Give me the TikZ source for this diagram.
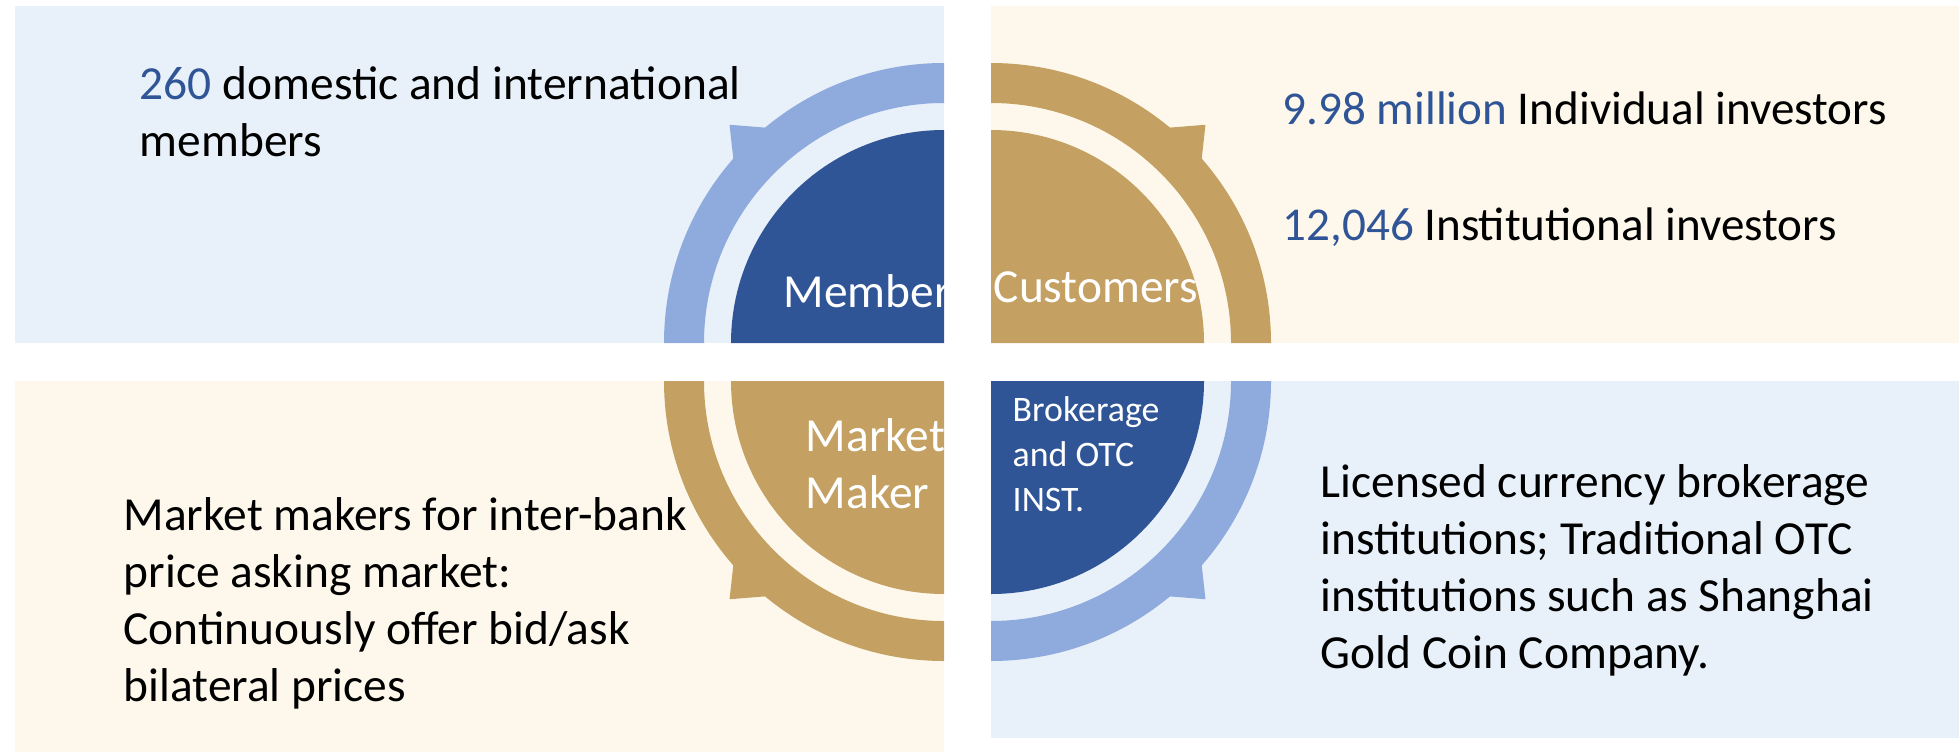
\documentclass[tikz,border=0pt]{standalone}
\usepackage{fontspec}
\setmainfont{Carlito}
\definecolor{paleblue}{HTML}{E8F0F9}
\definecolor{cream}{HTML}{FEF8EC}
\definecolor{gold}{HTML}{C4A163}
\definecolor{navy}{HTML}{2F5597}
\definecolor{ringblue}{HTML}{8FAADC}
\tikzset{
  txt/.style={anchor=north west, align=left, inner sep=0pt, font=\fontsize{13.5}{16.2}\selectfont},
  linetxt/.style={anchor=base west, inner sep=0pt, font=\fontsize{13.4}{16.2}\selectfont},
  lbl/.style={txt, text=white},
  smalllbl/.style={lbl, font=\fontsize{10.2}{12.8}\selectfont},
}
\newcommand{\num}[1]{\textcolor{navy}{#1}}
\begin{document}
\begin{tikzpicture}[x=0.1mm, y=0.1mm]
	\useasboundingbox (0,0) rectangle (1959,752);
	% Panels
	\fill [paleblue] (15,409) rectangle (944,746);
	\fill [cream] (991,409) rectangle (1959,746);
	\fill [cream] (15,0) rectangle (944,371);
	\fill [paleblue] (991,14) rectangle (1959,371);
	% Quarter discs
	\fill [navy] (944,409) -- ++(90:213) arc (90:180:213) -- cycle;
	\fill [gold] (991,409) -- ++(0:213) arc (0:90:213) -- cycle;
	\fill [gold] (944,371) -- ++(180:213) arc (180:270:213) -- cycle;
	\fill [navy] (991,371) -- ++(270:213) arc (270:360:213) -- cycle;
	% Outer rings
	\fill [ringblue] (944,409) ++(90:280) arc (90:180:280) -- ++(40,0) arc (180:90:240) -- cycle;
	\fill [gold] (991,409) ++(0:280) arc (0:90:280) -- ++(0,-40) arc (90:0:240) -- cycle;
	\fill [gold] (944,371) ++(180:280) arc (180:270:280) -- ++(0,40) arc (270:180:240) -- cycle;
	\fill [ringblue] (991,371) ++(270:280) arc (270:360:280) -- ++(-40,0) arc (360:270:240) -- cycle;
	% Barbs on the rings
	\fill [ringblue] ([shift={(129.5:279)}]944,409) -- ([shift={(134.5:306)}]944,409) -- ([shift={(139:279)}]944,409) -- cycle;
	\fill [gold] ([shift={(50.5:279)}]991,409) -- ([shift={(45.5:306)}]991,409) -- ([shift={(41:279)}]991,409) -- cycle;
	\fill [gold] ([shift={(230.5:279)}]944,371) -- ([shift={(225.5:306)}]944,371) -- ([shift={(221:279)}]944,371) -- cycle;
	\fill [ringblue] ([shift={(309.5:279)}]991,371) -- ([shift={(314.5:306)}]991,371) -- ([shift={(319:279)}]991,371) -- cycle;
	% Labels in the discs
	\begin{scope}
		\clip (15,409) rectangle (944,746);
		\node [lbl, anchor=base west] (member) at (783,445) {Members};
	\end{scope}
	\node [lbl, anchor=base west] (customers) at (993,450) {Customers};
	\node [lbl] (maker) at (805,341) {\strut Market\\Maker};
	\node [smalllbl] (broker) at (1012,363) {\strut Brokerage\\and OTC\\INST.};
	% Panel texts
	\node [txt] (members) at (139,693) {\strut\num{260} domestic and international\\members};
	\node [linetxt] (individual) at (1282,628) {\num{9.98 million} Individual investors};
	\node [linetxt] (institutional) at (1282,512) {\num{12,046} Institutional investors};
	\node [txt] (makers) at (123,262) {\strut Market makers for inter-bank\\price asking market:\\Continuously offer bid/ask\\bilateral prices};
	\node [txt] (licensed) at (1320,295) {\strut Licensed currency brokerage\\institutions; Traditional OTC\\institutions such as Shanghai\\Gold Coin Company.};
\end{tikzpicture}
\end{document}
